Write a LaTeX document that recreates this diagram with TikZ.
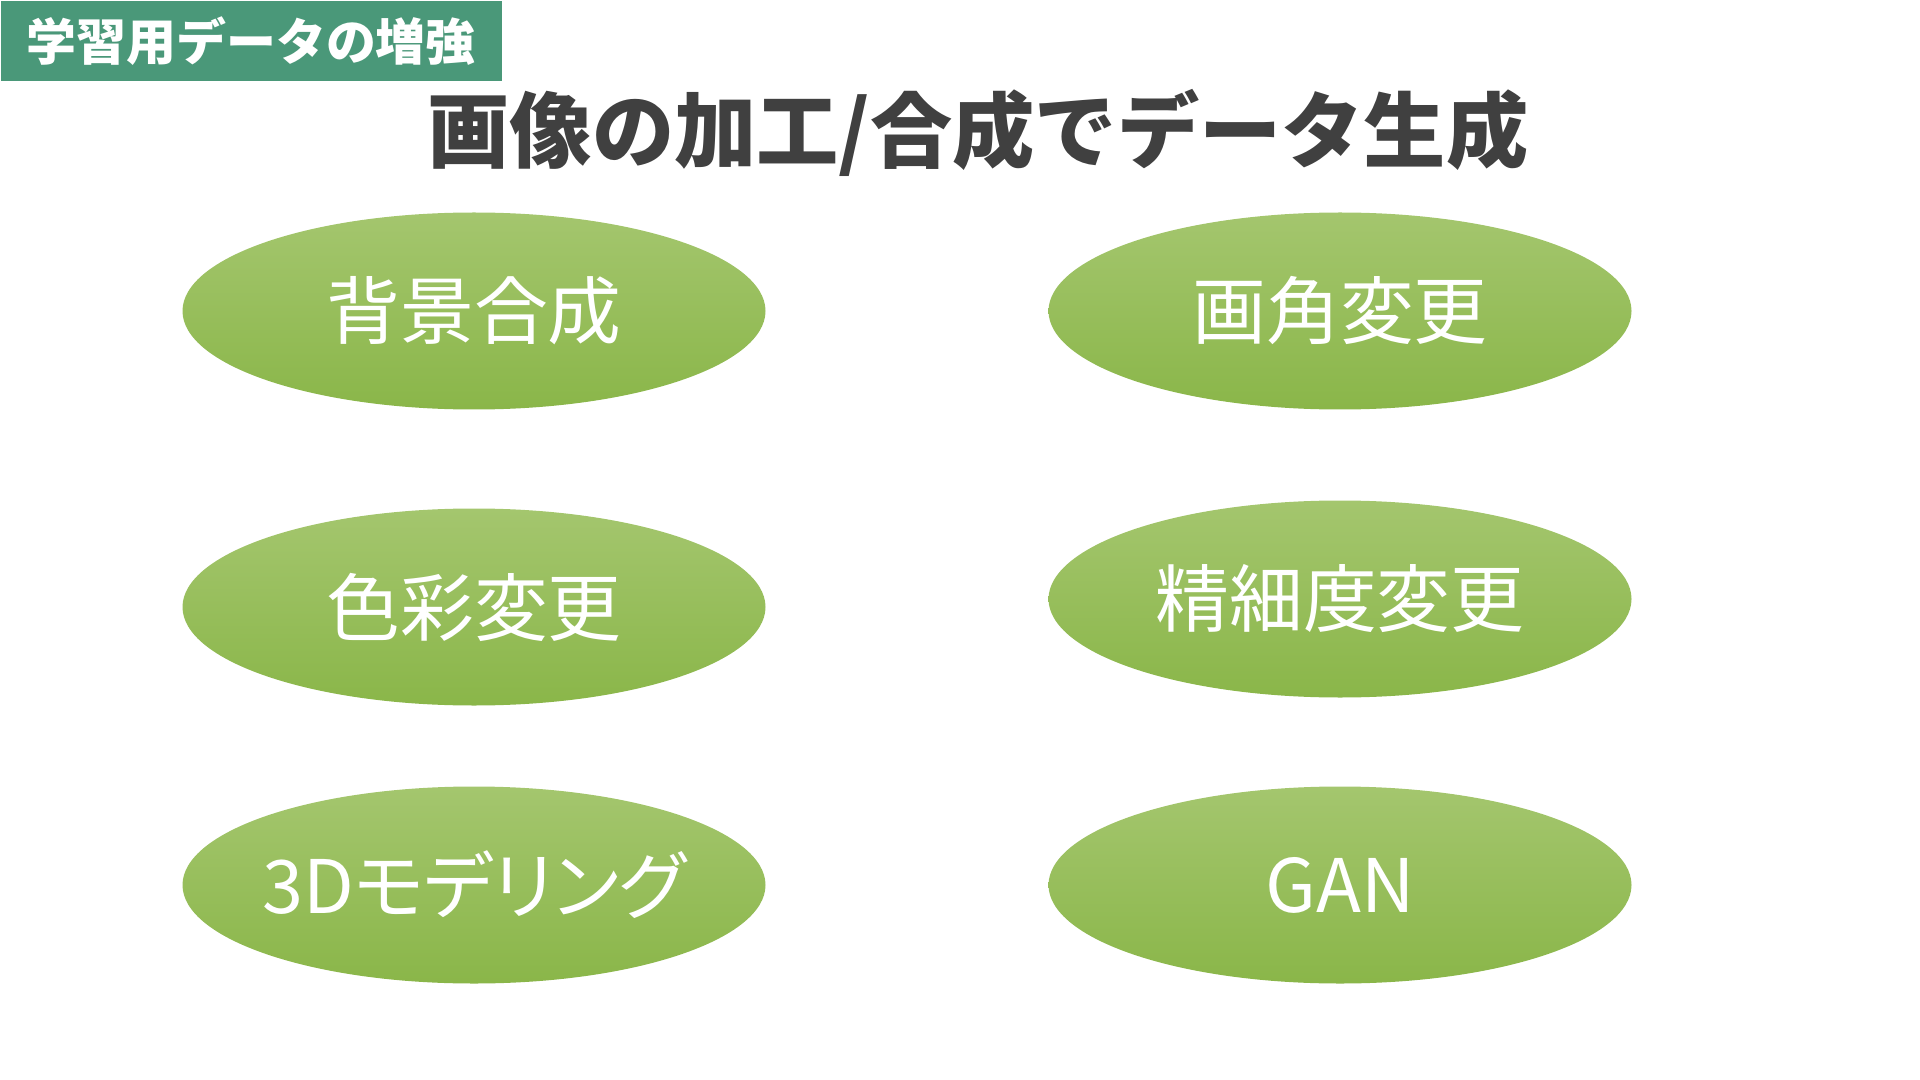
\documentclass[tikz,border=0pt]{standalone}
\usepackage{fontspec}
\setmainfont{Noto Sans CJK JP}
\usepackage{tikz}
\usetikzlibrary{shapes.geometric}
\usepackage{xcolor}
\definecolor{tagGreen}{RGB}{74,152,121}
\definecolor{ovalTop}{RGB}{164,198,110}
\definecolor{ovalBot}{RGB}{138,182,73}
\definecolor{titleGray}{RGB}{64,64,64}
\newcommand{\ovaltext}[1]{\makebox[0pt][c]{#1}}

\begin{document}
\begin{tikzpicture}[node distance=8.66cm,
	oval/.style={ellipse,minimum width=5.83cm,minimum height=1.97cm,inner sep=0pt,
		top color=ovalTop,bottom color=ovalBot,text=white,
		font=\fontsize{21}{25}\selectfont\addfontfeatures{RawFeature=+palt}},
	tag/.style={rectangle,fill=tagGreen,text=white,minimum width=5.01cm,minimum height=0.8cm,
		inner sep=0pt,font=\bfseries\fontsize{14.2}{17}\selectfont}]
		\useasboundingbox (0,0) rectangle (19.2,-10.8);
		\node[tag,anchor=north west] (tag) at (0,0) {学習用データの増強};
		\node[text=titleGray,font=\bfseries\fontsize{23.4}{28}\selectfont] (title) at (9.78,-1.33) {画像の加工/合成でデータ生成};
		
		\node[oval] (bg) at (4.74,-3.11) {\ovaltext{背景合成}};
		\node[oval] (angle) [right of=bg] {\ovaltext{画角変更}};
		\node[oval] (color) [below of=bg,node distance=2.96cm] {\ovaltext{色彩変更}};
		\node[oval] (res) [below of=angle,node distance=2.88cm] {\ovaltext{精細度変更}};
		\node[oval] (model) [below of=color,node distance=2.78cm] {\ovaltext{3Dモデリング}};
		\node[oval] (gan) [right of=model] {\ovaltext{GAN}};
		\end{tikzpicture}
\end{document}
